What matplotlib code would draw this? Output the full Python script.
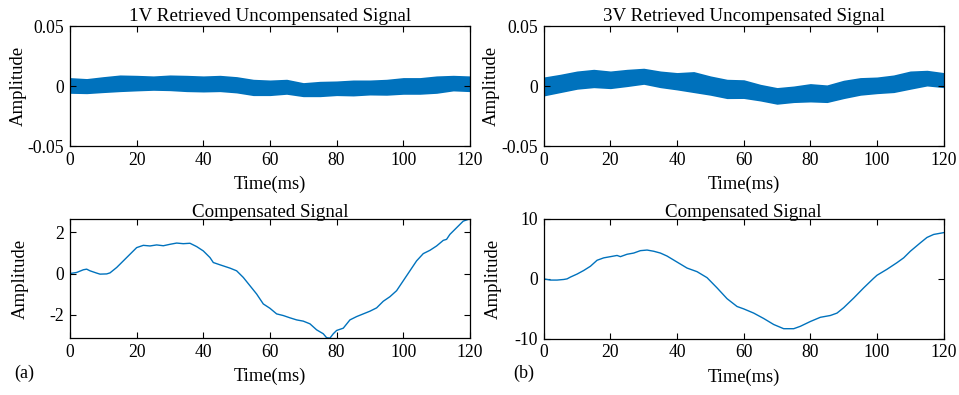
import numpy as np
import matplotlib.pyplot as plt

plt.rcParams['font.family'] = ['Liberation Serif', 'DejaVu Serif']
plt.rcParams['axes.unicode_minus'] = False

blue = '#0072BD'

# noisy retrieved signals: envelope read every 5 ms
t_env = np.arange(0, 121, 5)
up_1v = [0.0064, 0.0056, 0.0072, 0.0086, 0.0083, 0.0078, 0.0086, 0.0083, 0.0078,
         0.0083, 0.0072, 0.0050, 0.0044, 0.0050, 0.0022, 0.0033, 0.0036, 0.0044,
         0.0044, 0.0050, 0.0064, 0.0064, 0.0078, 0.0083, 0.0078]
lo_1v = [-0.0053, -0.0056, -0.0047, -0.0039, -0.0033, -0.0028, -0.0031, -0.0039,
         -0.0042, -0.0039, -0.0050, -0.0072, -0.0072, -0.0061, -0.0081, -0.0081,
         -0.0072, -0.0075, -0.0067, -0.0069, -0.0061, -0.0061, -0.0053, -0.0033,
         -0.0039]
up_3v = [0.0069, 0.0092, 0.0119, 0.0133, 0.0119, 0.0133, 0.0142, 0.0119, 0.0106,
         0.0114, 0.0078, 0.0050, 0.0046, 0.0008, -0.0019, -0.0006, 0.0014, 0.0003,
         0.0042, 0.0064, 0.0069, 0.0086, 0.0119, 0.0125, 0.0106]
lo_3v = [-0.0075, -0.0047, -0.0019, -0.0006, -0.0014, 0.0003, 0.0022, -0.0006,
         -0.0025, -0.0047, -0.0069, -0.0097, -0.0096, -0.0117, -0.0144, -0.0130,
         -0.0125, -0.0130, -0.0097, -0.0069, -0.0056, -0.0047, -0.0019, 0.0008,
         -0.0006]

# compensated signals
t_a = [0, 2, 4, 5, 6, 8, 9, 11, 12, 14, 16, 18, 20, 22, 24, 26, 28, 30, 32, 34, 36,
       38, 40, 42, 43, 45, 48, 50, 52, 54, 56, 58, 60, 62, 64, 66, 68, 70, 72, 74,
       76, 77, 78, 79, 80, 82, 84, 86, 88, 90, 92, 94, 96, 98, 100, 102, 104, 106,
       108, 110, 112, 113, 114, 116, 118, 120]
comp_a = [0, 0.05, 0.18, 0.21, 0.13, 0.02, -0.03, -0.02, 0.03, 0.29, 0.61, 0.93,
          1.25, 1.36, 1.33, 1.38, 1.34, 1.41, 1.47, 1.44, 1.46, 1.30, 1.09, 0.77,
          0.53, 0.42, 0.26, 0.13, -0.19, -0.59, -0.99, -1.47, -1.68, -1.95, -2.03,
          -2.14, -2.24, -2.30, -2.43, -2.72, -2.91, -3.10, -3.12, -2.91, -2.75,
          -2.64, -2.24, -2.08, -1.95, -1.82, -1.66, -1.34, -1.12, -0.83, -0.35,
          0.13, 0.61, 0.96, 1.12, 1.33, 1.60, 1.65, 1.89, 2.21, 2.53, 2.64]

t_b = [0, 2, 4, 6, 7, 8, 10, 12, 14, 16, 18, 20, 22, 23, 25, 27, 29, 31, 33, 35, 37,
       40, 43, 46, 49, 52, 55, 58, 60, 63, 66, 69, 72, 75, 77, 80, 83, 86, 88, 90,
       93, 96, 99, 100, 103, 106, 108, 110, 113, 115, 117, 120]
comp_b = [0, -0.2, -0.2, -0.1, 0, 0.3, 0.8, 1.4, 2.1, 3.1, 3.5, 3.7, 3.9, 3.7, 4.1,
          4.3, 4.7, 4.8, 4.6, 4.3, 3.8, 2.8, 1.8, 1.2, 0.2, -1.5, -3.3, -4.6, -5.0,
          -5.7, -6.6, -7.6, -8.3, -8.3, -7.9, -7.1, -6.4, -6.1, -5.7, -4.8, -3.2,
          -1.5, 0.1, 0.6, 1.6, 2.7, 3.5, 4.6, 6.0, 6.9, 7.4, 7.7]

fig = plt.figure(figsize=(9.59, 3.95), dpi=100)
ax1 = fig.add_axes([0.073, 0.630, 0.417, 0.304])
ax2 = fig.add_axes([0.567, 0.630, 0.417, 0.304])
ax3 = fig.add_axes([0.073, 0.144, 0.417, 0.302])
ax4 = fig.add_axes([0.567, 0.142, 0.417, 0.304])

ax1.fill_between(t_env, lo_1v, up_1v, color=blue, lw=1.2)
ax2.fill_between(t_env, lo_3v, up_3v, color=blue, lw=1.2)
ax3.plot(t_a, comp_a, color=blue, lw=1.0)
ax4.plot(t_b, comp_b, color=blue, lw=1.0)

ax1.set_title('1V Retrieved Uncompensated Signal', fontsize=13.7, pad=4)
ax2.set_title('3V Retrieved Uncompensated Signal', fontsize=13.7, pad=4)
ax3.set_title('Compensated Signal', fontsize=13.7, pad=1)
ax4.set_title('Compensated Signal', fontsize=13.7, pad=1)

for ax in [ax1, ax2]:
    ax.set_ylim(-0.05, 0.05)
    ax.set_yticks([-0.05, 0, 0.05])
    ax.set_yticklabels(['-0.05', '0', '0.05'])
ax3.set_ylim(min(comp_a), max(comp_a))
ax3.set_yticks([-2, 0, 2])
ax4.set_ylim(-10, 10)
ax4.set_yticks([-10, 0, 10])

label_x = [-0.1075, -0.11, -0.1025, -0.105]
for ax, lx in zip([ax1, ax2, ax3, ax4], label_x):
    ax.set_xlim(0, 120)
    ax.set_xticks(range(0, 121, 20))
    ax.tick_params(direction='in', top=True, right=True, labelsize=12.7,
                   length=4, width=0.8, pad=4)
    for s in ax.spines.values():
        s.set_linewidth(0.9)
    ax.set_xlabel('Time(ms)', fontsize=13.3, labelpad=5)
    ax.set_ylabel('Amplitude', fontsize=13.5)
    ax.yaxis.set_label_coords(lx, 0.5)

fig.text(14 / 959, 1 - 373 / 395, '(a)', fontsize=13, va='center')
fig.text(513 / 959, 1 - 373 / 395, '(b)', fontsize=13, va='center')

fig.savefig('out.png', dpi=100)
